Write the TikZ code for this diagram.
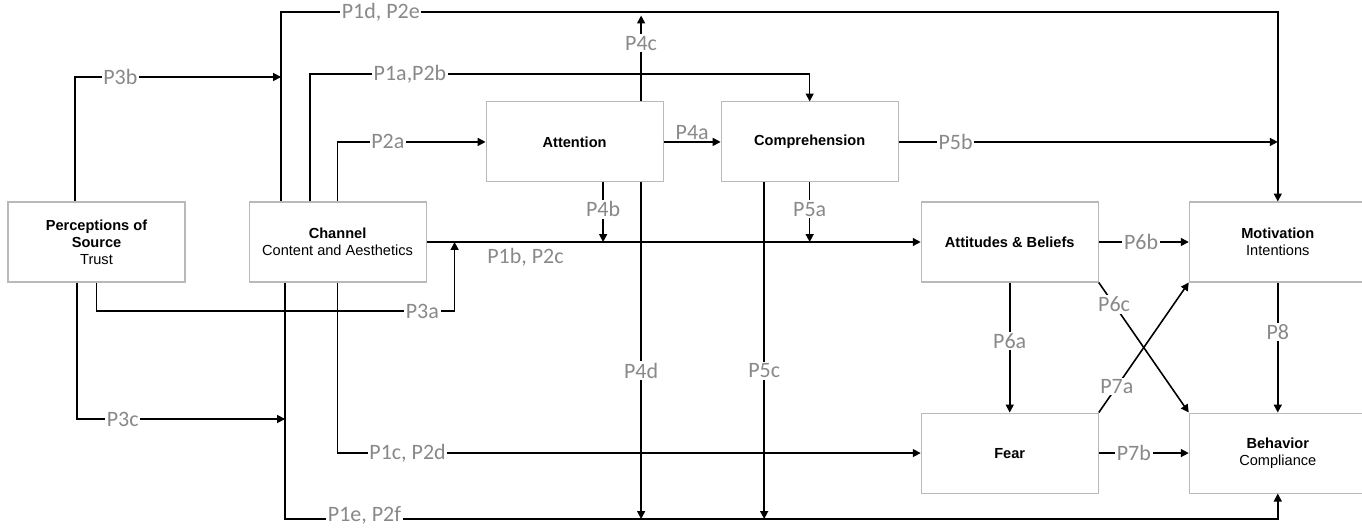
\documentclass[tikz,border=0pt]{standalone}
\usepackage{fontspec}
\setmainfont{Liberation Sans}
\newfontfamily\carlito{Carlito}
\usetikzlibrary{positioning,arrows.meta}
\definecolor{labgray}{RGB}{137,137,137}
\definecolor{boxgray}{RGB}{185,185,185}
\newcommand\boxfont{\fontsize{8.3}{9.7}\selectfont}
\newcommand\labfont{\carlito\fontsize{12.5}{14}\selectfont}
\begin{document}
\begin{tikzpicture}[x=0.2mm,y=-0.2mm,>={Triangle[length=4.5pt,width=4.5pt]},every node/.style={font=\boxfont},box/.style={draw=boxgray,line width=.6pt,align=center,minimum width=35.4mm,minimum height=16mm,inner sep=2pt},lab/.style={fill=white,text=labgray,font=\labfont,inner sep=1pt},link/.style={->,line width=.9pt}]
\useasboundingbox (0,0) rectangle (1362,527);
\node[box] (src) at (96.5,242){\textbf{Perceptions of}\\\textbf{Source}\\Trust};
\node[box,right=12.6mm of src] (chan){\textbf{Channel}\\Content and Aesthetics};
\node[box,above right=3.8mm and 11.8mm of chan] (attn){\textbf{Attention}};
\node[box,right=11.4mm of attn] (comp){\textbf{Comprehension}};
\node[box,below right=3.8mm and 4.4mm of comp] (atti){\textbf{Attitudes \& Beliefs}};
\node[box,right=18mm of atti] (moti){\textbf{Motivation}\\Intentions};
\node[box,below=26mm of atti] (fear){\textbf{Fear}};
\node[box,below=26mm of moti] (beha){\textbf{Behavior}\\Compliance};
\coordinate (ytop) at (0,12);\coordinate (yp1a) at (0,74);\coordinate (yp3b) at (0,77);
\coordinate (yp3a) at (0,311);\coordinate (yp3c) at (0,419);\coordinate (ybot) at (0,519);
\coordinate (c1) at ([xshift=-11.3mm]chan.north);\coordinate (c2) at ([xshift=-5.5mm]chan.north);
\coordinate (c3) at ([xshift=-10.5mm]chan.south);\coordinate (j3a) at ([xshift=5.6mm]chan.east);
\coordinate (a4c) at ([xshift=13.3mm]attn.north);\coordinate (a4d) at ([xshift=13.3mm]attn.south);
\coordinate (a4b) at ([xshift=5.7mm]attn.south);\coordinate (k5c) at ([xshift=-9.1mm]comp.south);
\coordinate (s3b) at ([xshift=-4.3mm]src.north);\coordinate (s3c) at ([xshift=-3.9mm]src.south);
\draw[link](s3b) |- node[lab,pos=.61]{P3b} (c1 |- yp3b);
\draw[link](c1) -- (c1 |- ytop) -| node[lab,pos=.05]{P1d, P2e} (moti.north);
\draw[link](c2) -- (c2 |- yp1a) -| node[lab,pos=.1]{P1a,P2b} (comp.north);
\draw[link](chan.north) |- node[lab,pos=.67]{P2a} (attn.west);
\draw[link,shorten >=2pt](a4c) -- node[lab,pos=.65]{P4c} (a4c |- ytop);
\draw[link](attn.east) -- node[lab,above,fill=none]{P4a} (comp.west);
\draw[link](comp.east) -- node[lab,pos=.15]{P5b} (comp.east -| moti.north);
\draw[link](chan.east) -- node[lab,below=2pt,pos=.2,fill=none]{P1b, P2c} (atti.west);
\draw[link](src.south) -- (src.south |- yp3a) -| node[lab,pos=.455]{P3a} (j3a);
\draw[link](a4b) -- node[lab,pos=.45]{P4b} (a4b |- chan.east);
\draw[link](comp.south) -- node[lab,pos=.45]{P5a} (comp.south |- chan.east);
\draw[link](a4d) -- node[lab,pos=.56]{P4d} (a4d |- ybot);
\draw[link](k5c) -- node[lab,pos=.56]{P5c} (k5c |- ybot);
\draw[link](s3c) |- node[lab,pos=.61]{P3c} (c3 |- yp3c);
\draw[link](c3) -- (c3 |- ybot) -| node[lab,pos=.04,yshift=2pt]{P1e, P2f} (beha.south);
\draw[link](chan.south) |- node[lab,pos=.56]{P1c, P2d} (fear.west);
\draw[link](atti.east) -- node[lab,pos=.47]{P6b} (moti.west);
\draw[link](atti.south) -- node[lab,pos=.45]{P6a} (fear.north);
\draw[link](atti.south east) -- node[lab,pos=.17]{P6c} (beha.north west);
\draw[link](fear.north east) -- node[lab,pos=.2]{P7a} (moti.south west);
\draw[link](fear.east) -- node[lab,pos=.39]{P7b} (beha.west);
\draw[link](moti.south) -- node[lab,pos=.38]{P8} (beha.north);
\end{tikzpicture}
\end{document}
